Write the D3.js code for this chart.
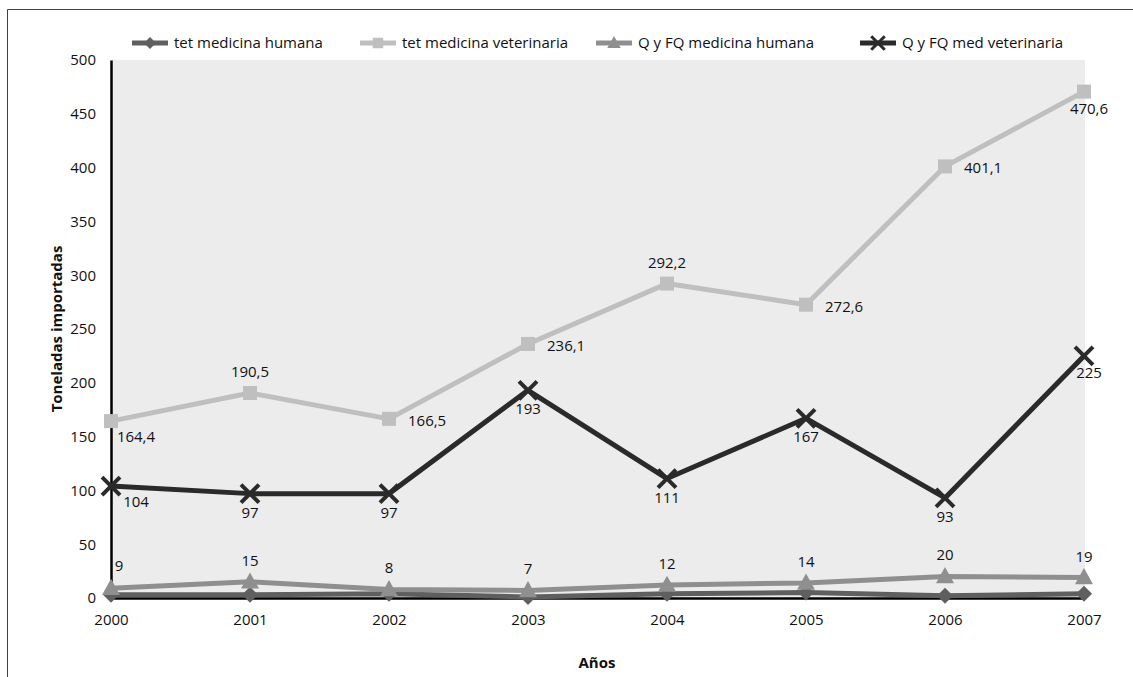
<!DOCTYPE html>
<html>
<head>
<meta charset="utf-8">
<script src="https://cdn.jsdelivr.net/npm/d3@7"></script>
<style>
  html, body { margin: 0; padding: 0; background: #fff; }
  svg { display: block; }
  text { font-family: "Open Sans", "Noto Sans", sans-serif; fill: #111; }
</style>
</head>
<body>
<svg id="chart" width="1133" height="677"></svg>
<script>
// Años de importación
const years = ["2000", "2001", "2002", "2003", "2004", "2005", "2006", "2007"];

// Toneladas importadas por grupo
const tetHumana = [3, 3, 4, 1, 4, 5, 2, 4];
const tetVeterinaria = [164.4, 190.5, 166.5, 236.1, 292.2, 272.6, 401.1, 470.6];
const qfqHumana = [9, 15, 8, 7, 12, 14, 20, 19];
const qfqVeterinaria = [104, 97, 97, 193, 111, 167, 93, 225];

// Posición de las etiquetas de datos
const tetVetLabelPos = ["belowRight", "above", "right", "right", "above", "right", "right", "below"];
const qfqVetLabelPos = ["belowRight", "below", "below", "below", "below", "below", "below", "below"];
const qfqHumLabelPos = ["aboveRight", "above", "above", "above", "above", "above", "above", "above"];

const yTicks = [0, 50, 100, 150, 200, 250, 300, 350, 400, 450, 500];

const svg = d3.select("#chart");
const W = 1133, H = 677;
const plot = { left: 111, right: 1084, top: 60, bottom: 598 };
const FS = "15px";

const x = d3.scalePoint().domain(years).range([plot.left, plot.right]);
const y = d3.scaleLinear().domain([0, 500]).range([plot.bottom, plot.top]);

// Marco exterior
svg.append("path")
  .attr("d", `M7.5,${H} L7.5,9.5 L${W},9.5`)
  .attr("fill", "none").attr("stroke", "#404040").attr("stroke-width", 1);

// Área de trazado
svg.append("rect")
  .attr("x", plot.left).attr("y", plot.top)
  .attr("width", plot.right + 1 - plot.left).attr("height", plot.bottom - plot.top)
  .attr("fill", "#ececec");

// Eje Y
const yAxis = svg.append("g")
  .attr("transform", `translate(${plot.left},0)`)
  .call(d3.axisLeft(y).tickValues(yTicks).tickSize(0).tickPadding(15));
yAxis.select(".domain").attr("stroke", "#000").attr("stroke-width", 2.5);
yAxis.selectAll("text").style("font-size", FS).attr("fill", "#111")
  .style("font-family", "'Open Sans', sans-serif");

// Eje X
const xAxis = svg.append("g")
  .attr("transform", `translate(0,${plot.bottom})`)
  .call(d3.axisBottom(x).tickSize(0).tickPadding(16));
xAxis.select(".domain").attr("stroke", "#000").attr("stroke-width", 2.5);
xAxis.selectAll("text").style("font-size", FS).attr("fill", "#111")
  .style("font-family", "'Open Sans', sans-serif");

// Títulos de ejes
svg.append("text")
  .attr("transform", `translate(62,${329}) rotate(-90)`)
  .attr("text-anchor", "middle")
  .style("font-size", "15px").style("font-weight", "bold")
  .text("Toneladas importadas");
svg.append("text")
  .attr("x", 597).attr("y", 668)
  .attr("text-anchor", "middle")
  .style("font-size", "15px").style("font-weight", "bold")
  .text("Años");

// Series
const series = [
  { name: "tet medicina humana", values: tetHumana, color: "#5f5f5f", marker: "diamond", labels: null },
  { name: "tet medicina veterinaria", values: tetVeterinaria, color: "#bfbfbf", marker: "square", labels: tetVetLabelPos, fmt: d => d3.format(".1f")(d).replace(".", ",") },
  { name: "Q y FQ medicina humana", values: qfqHumana, color: "#8f8f8f", marker: "triangle", labels: qfqHumLabelPos, fmt: d => String(d) },
  { name: "Q y FQ med veterinaria", values: qfqVeterinaria, color: "#2a2a2a", marker: "cross", labels: qfqVetLabelPos, fmt: d => String(d) }
];

function drawMarker(g, type, color, cx, cy, scale) {
  const s = scale || 1;
  if (type === "diamond") {
    const r = 8 * s;
    g.append("path").attr("d", `M${cx},${cy - r} L${cx + r},${cy} L${cx},${cy + r} L${cx - r},${cy} Z`)
      .attr("fill", color);
  } else if (type === "square") {
    const r = 7 * s;
    g.append("rect").attr("x", cx - r).attr("y", cy - r).attr("width", 2 * r).attr("height", 2 * r)
      .attr("fill", color);
  } else if (type === "triangle") {
    const r = 9 * s;
    g.append("path").attr("d", `M${cx},${cy - r * 1.05} L${cx + r},${cy + r * 0.75} L${cx - r},${cy + r * 0.75} Z`)
      .attr("fill", color);
  } else if (type === "cross") {
    const r = 9 * s;
    g.append("path").attr("d", `M${cx - r},${cy - r} L${cx + r},${cy + r} M${cx - r},${cy + r} L${cx + r},${cy - r}`)
      .attr("stroke", color).attr("stroke-width", 4 * s).attr("fill", "none");
  }
}

const line = d3.line().x((d, i) => x(years[i])).y(d => y(d));

series.forEach(s => {
  const g = svg.append("g");
  g.append("path").datum(s.values)
    .attr("d", line)
    .attr("fill", "none").attr("stroke", s.color).attr("stroke-width", 5)
    .attr("stroke-linejoin", "round");
  s.values.forEach((v, i) => drawMarker(g, s.marker, s.color, x(years[i]), y(v)));
});

// Etiquetas de datos
const offsets = {
  right: { dx: 19, dy: 7, anchor: "start" },
  above: { dx: 0, dy: -16, anchor: "middle" },
  aboveRight: { dx: 8, dy: -17, anchor: "middle" },
  below: { dx: 0, dy: 24, anchor: "middle" },
  belowRight: { dx: 25, dy: 21, anchor: "middle" }
};
series.forEach(s => {
  if (!s.labels) return;
  s.values.forEach((v, i) => {
    const o = Object.assign({}, offsets[s.labels[i]]);
    // la última etiqueta inferior se desplaza un poco a la derecha
    if (s.labels[i] === "below" && i === years.length - 1) { o.dx = 5; o.dy = 22; }
    svg.append("text")
      .attr("x", x(years[i]) + o.dx)
      .attr("y", y(v) + o.dy)
      .attr("text-anchor", o.anchor)
      .style("font-size", FS)
      .text(s.fmt(v));
  });
});

// Leyenda
const legendItems = [
  { s: series[0], x: 132 },
  { s: series[1], x: 360 },
  { s: series[2], x: 596 },
  { s: series[3], x: 860 }
];
const ly = 43;
legendItems.forEach(it => {
  const g = svg.append("g");
  g.append("line").attr("x1", it.x).attr("x2", it.x + 36).attr("y1", ly).attr("y2", ly)
    .attr("stroke", it.s.color).attr("stroke-width", 5);
  drawMarker(g, it.s.marker, it.s.color, it.x + 18, ly, 0.75);
  g.append("text").attr("x", it.x + 42).attr("y", ly + 5)
    .style("font-size", FS).text(it.s.name);
});
</script>
</body>
</html>
